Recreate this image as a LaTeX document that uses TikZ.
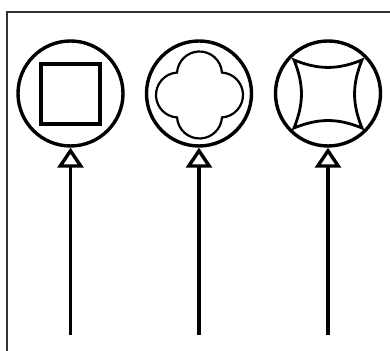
\documentclass[tikz,border=0pt]{standalone}
\usetikzlibrary{arrows.meta}
\begin{document}
\begin{tikzpicture}[x=0.5pt,y=0.5pt,
    ring/.style={draw,line width=1.7pt,circle,inner sep=0pt,minimum size=52.5pt},
    feed/.style={-{Triangle[open,length=10pt,width=13pt]},line width=1.7pt}]
  \useasboundingbox (0,0) rectangle (390,351);
  \draw [line width=0.6pt,black!80] (7,0) -- (7,339) -- (390,339);
  \node (left) at (70.5,257.5) [ring] {};
  \node (middle) at (199,257.5) [ring] {};
  \node (right) at (328,257.5) [ring] {};
  \node (square) at (70.5,257) [draw,line width=1.9pt,rectangle,inner sep=0pt,minimum size=29.7pt] {};
  \begin{scope}[shift={(199.5,256)},line width=1.1pt]
    \draw (22.45,22.45) arc[start angle=3.7,end angle=176.3,radius=22.5]
      arc[start angle=93.7,end angle=266.3,radius=22.5]
      arc[start angle=183.7,end angle=356.3,radius=22.5]
      arc[start angle=273.7,end angle=446.3,radius=22.5] -- cycle;
  \end{scope}
  \begin{scope}[shift={(328,257)},line width=1.4pt]
    \draw (-34,34) to[bend left=22] (-34,-34) to[bend left=22] (34,-34)
      to[bend left=22] (34,34) to[bend left=22] (-34,34) -- cycle;
  \end{scope}
  \coordinate (leftin) at (70.5,16);
  \coordinate (middlein) at (199,16);
  \coordinate (rightin) at (328,16);
  \draw [feed] (leftin) -- (left.south);
  \draw [feed] (middlein) -- (middle.south);
  \draw [feed] (rightin) -- (right.south);
\end{tikzpicture}
\end{document}
